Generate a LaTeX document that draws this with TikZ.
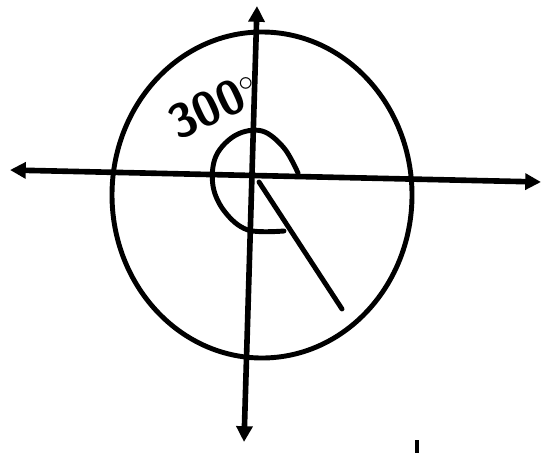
\documentclass[tikz,border=0pt]{standalone}
\usepackage{tikz}
\usetikzlibrary{arrows.meta}

\begin{document}
\begin{tikzpicture}[
    x=0.02cm, y=-0.02cm,
    axis/.style={line width=3.2pt, {Triangle[length=9pt,width=9pt]}-{Triangle[length=9pt,width=9pt]}},
    ring/.style={line width=2.8pt},
    anglemark/.style={line width=2.8pt, line cap=round, line join=round},
    label/.style={font=\sffamily\bfseries\fontsize{27}{27}\selectfont, inner sep=0pt}
  ]
    \useasboundingbox (0,0) rectangle (543,453);

    % axes
    \coordinate (xl) at (10,170);
    \coordinate (xr) at (541,182);
    \coordinate (yt) at (257,6);
    \coordinate (yb) at (244,442);
    \draw[axis] (xl) -- (xr);
    \draw[axis] (yt) -- (yb);

    % circle
    \draw[ring] (262,195) ellipse [x radius=150, y radius=163];

    % terminal side and angle mark
    \coordinate (o) at (259,182);
    \coordinate (tip) at (342,309);
    \draw[anglemark] (o) -- (tip);
    \draw[anglemark] plot[smooth, tension=0.6] coordinates {
      (298,173) (284,148) (262,131) (236,135) (216,156)
      (213,186) (225,212) (248,230) (284,231)};

    % label
    \node[label, rotate=25] (deg) at (214,106) {300$^{\circ}$};

    % stray mark
    \coordinate (ma) at (417,440);
    \coordinate (mb) at (417,453);
    \draw[line width=2.4pt] (ma) -- (mb);
  \end{tikzpicture}
\end{document}
